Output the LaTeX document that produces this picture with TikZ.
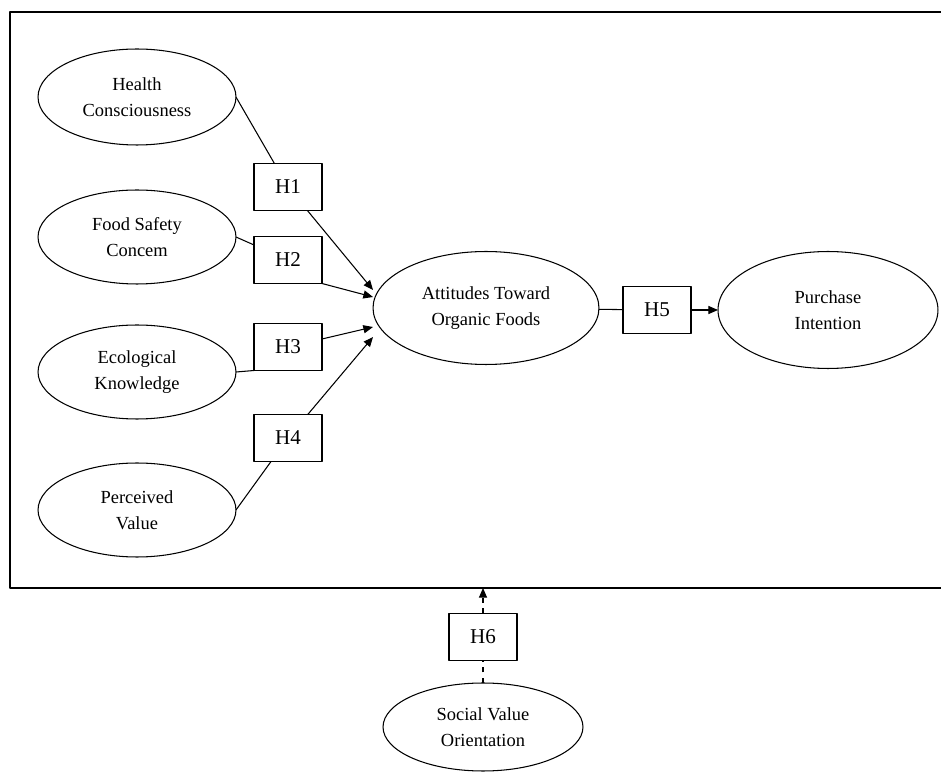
\documentclass[tikz,border=0pt]{standalone}
\usepackage{fontspec}
\setmainfont{Liberation Serif}
\usetikzlibrary{shapes.geometric,arrows.meta}
\begin{document}
\begin{tikzpicture}[x=0.02cm,y=-0.02cm,>={Triangle[length=5.5pt,width=4.6pt]},line join=round,line width=0.6pt,
	construct/.style={draw,ellipse,inner sep=0pt,outer sep=0pt,align=center,font=\fontsize{10.5}{15}\selectfont},
	hbox/.style={draw,rectangle,minimum width=1.36cm,minimum height=0.94cm,inner sep=0pt,outer sep=0pt,font=\fontsize{12}{14}\selectfont}]
		\useasboundingbox (0,0) rectangle (941,773);
		\draw[line width=0.8pt] (941,12)--(10,12)--(10,588)--(941,588);
		% antecedents
		\node[construct,minimum width=3.96cm,minimum height=1.92cm] (hc) at (137,97) {Health\\Consciousness};
		\node[construct,minimum width=3.96cm,minimum height=1.88cm] (fsc) at (137,237) {Food Safety\\Concem};
		\node[construct,minimum width=3.96cm,minimum height=1.88cm] (ek) at (137,372) {Ecological\\Knowledge};
		\node[construct,minimum width=3.96cm,minimum height=1.88cm] (pv) at (137,510) {Perceived\\Value};
		\node[construct,minimum width=4.52cm,minimum height=2.26cm] (att) at (486,308) {Attitudes Toward\\Organic Foods};
		\node[construct,minimum width=4.4cm,minimum height=2.34cm] (pi) at (828,310) {Purchase\\Intention};
		\node[construct,minimum width=4.0cm,minimum height=1.76cm] (sv) at (483,727) {Social Value\\Orientation};
		% hypotheses
		\node[hbox] (h1) at (288,187) {H1};
		\node[hbox] (h2) at (288,260) {H2};
		\node[hbox] (h3) at (288,347) {H3};
		\node[hbox] (h4) at (288,438) {H4};
		\node[hbox] (h5) at (657,310) {H5};
		\node[hbox] (h6) at (483,637) {H6};
		\coordinate (fb) at (483,588);
		% paths
		\draw (hc.east)--(h1);
		\draw[->] (h1)--([yshift=0.36cm]att.west);
		\draw (fsc.east)--(h2);
		\draw[->] (h2.south east)--([yshift=0.22cm]att.west);
		\draw (ek.east)--(h3.south west);
		\draw[->] (h3)--([yshift=-0.38cm]att.west);
		\draw (pv.east)--(h4);
		\draw[->] (h4)--([yshift=-0.58cm]att.west);
		\draw (att)--(h5);
		\draw[->] (h5)--(pi);
		\draw[dashed] (sv)--(h6);
		\draw[dashed,->] (h6)--(fb);
\end{tikzpicture}
\end{document}
